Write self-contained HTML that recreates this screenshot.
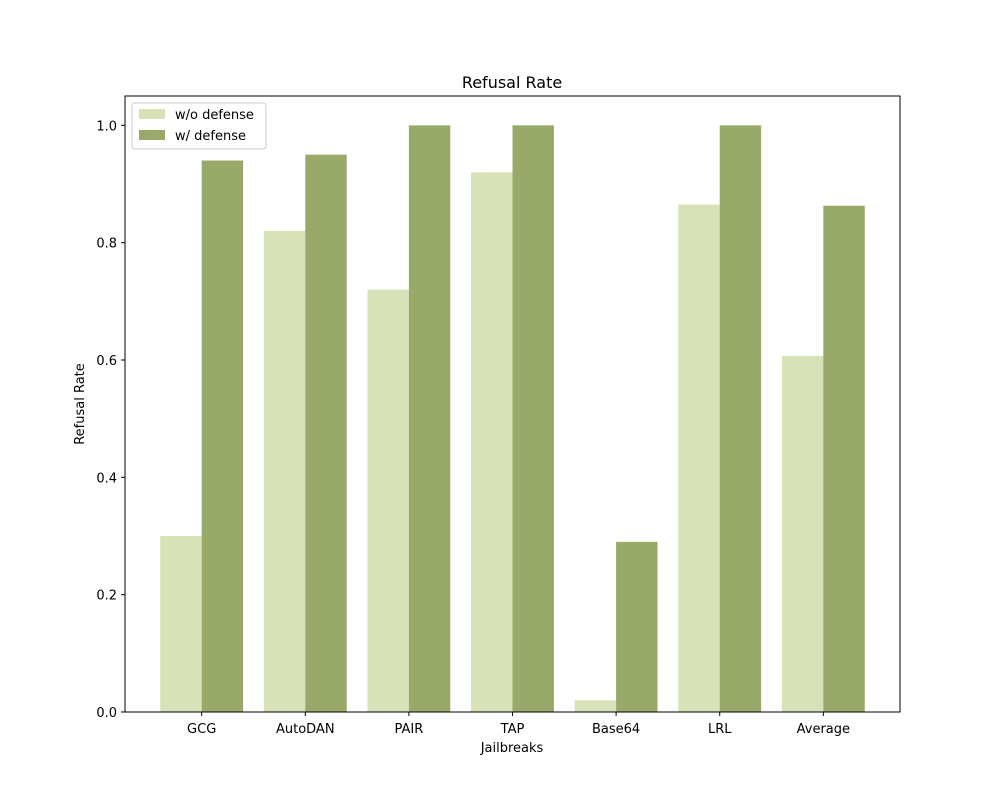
<!DOCTYPE html>
<html><head><meta charset="utf-8"><style>
body{margin:0;background:#fff;}
svg text{font-family:"DejaVu Sans","Liberation Sans",sans-serif;}
</style></head><body>
<svg id="chart" width="1000" height="800" xmlns="http://www.w3.org/2000/svg">
<text x="512" y="88" font-size="16" text-anchor="middle">Refusal Rate</text>
<g id="bars"></g>
<g id="axes"></g>
<rect x="125" y="96" width="775" height="616" fill="none" stroke="#000" stroke-width="1"/>
<text x="512" y="752" font-size="13" text-anchor="middle">Jailbreaks</text>
<text transform="translate(84,404) rotate(-90)" font-size="13" text-anchor="middle">Refusal Rate</text>
<g>
<rect x="132" y="103" width="134" height="46" fill="#fff" stroke="#ccc" rx="3"/>
<rect x="139" y="109" width="26" height="10" fill="#d7e3b7"/>
<text x="175" y="119" font-size="13">w/o defense</text>
<rect x="139" y="130" width="26" height="10" fill="#98a96a"/>
<text x="175" y="140" font-size="13">w/ defense</text>
</g>
</svg>
<script>
const categories=["GCG","AutoDAN","PAIR","TAP","Base64","LRL","Average"];
const wo=[0.30,0.82,0.72,0.92,0.02,0.865,0.607];
const w=[0.94,0.95,1.0,1.0,0.29,1.0,0.863];
const yTicks=[0,0.2,0.4,0.6,0.8,1.0];
const NS="http://www.w3.org/2000/svg";
const L=125,R=900,T=96,B=712,xmin=-0.74,xmax=6.74,ymax=1.05;
const xs=v=>L+(v-xmin)/(xmax-xmin)*(R-L);
const ys=v=>B-v/ymax*(B-T);
const bars=document.getElementById('bars'),axes=document.getElementById('axes');
function mk(tag,attrs,parent){const e=document.createElementNS(NS,tag);for(const k in attrs)e.setAttribute(k,attrs[k]);parent.appendChild(e);return e;}
const bw=0.4;
categories.forEach((c,i)=>{
  const r1=mk('rect',{x:xs(i-bw),y:ys(wo[i]),width:xs(i)-xs(i-bw),height:B-ys(wo[i]),fill:'#d7e3b7'},bars);
  
  
  const r2=mk('rect',{x:xs(i),y:ys(w[i]),width:xs(i+bw)-xs(i),height:B-ys(w[i]),fill:'#98a96a'},bars);
  
  
  const t=mk('line',{x1:xs(i),x2:xs(i),y1:B,y2:B+4,stroke:'#000'},axes);
  
  
  const l=mk('text',{x:xs(i),y:B+21,'font-size':13,'text-anchor':'middle'},axes);
  l.textContent=c;
  
  
});
yTicks.forEach(v=>{
  const t=mk('line',{x1:L-4,x2:L,y1:ys(v),y2:ys(v),stroke:'#000'},axes);
  
  
  const l=mk('text',{x:L-8,y:ys(v)+5,'font-size':13,'text-anchor':'end'},axes);
  l.textContent=v.toFixed(1);
  
  
});
</script>
</body></html>
